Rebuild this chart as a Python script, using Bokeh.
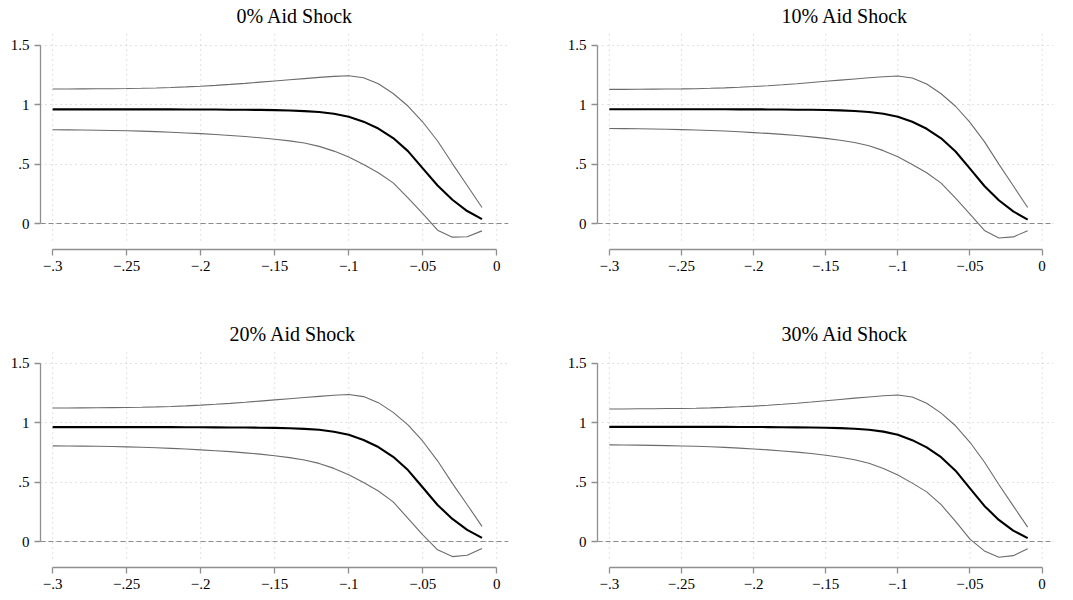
from bokeh.plotting import figure
from bokeh.models import Range1d, FixedTicker, Span
from bokeh.layouts import column, row
from bokeh.embed import file_html
from bokeh.resources import INLINE

# ---------------- data ----------------
x_vals = [-0.30, -0.29, -0.28, -0.27, -0.26, -0.25, -0.24, -0.23, -0.22, -0.21,
          -0.20, -0.19, -0.18, -0.17, -0.16, -0.15, -0.14, -0.13, -0.12, -0.11,
          -0.10, -0.09, -0.08, -0.07, -0.06, -0.05, -0.04, -0.03, -0.02, -0.01]

titles = ["0% Aid Shock", "10% Aid Shock", "20% Aid Shock", "30% Aid Shock"]

upper0 = [1.133, 1.133, 1.134, 1.135, 1.136, 1.137, 1.139, 1.142, 1.146, 1.151,
          1.157, 1.164, 1.172, 1.181, 1.191, 1.201, 1.211, 1.221, 1.231, 1.240,
          1.245, 1.228, 1.177, 1.095, 0.990, 0.855, 0.695, 0.505, 0.320, 0.135]
center0 = [0.962, 0.962, 0.962, 0.962, 0.962, 0.962, 0.962, 0.962, 0.962, 0.961,
           0.961, 0.960, 0.959, 0.958, 0.957, 0.955, 0.952, 0.947, 0.940, 0.925,
           0.900, 0.858, 0.800, 0.720, 0.610, 0.465, 0.320, 0.200, 0.105, 0.037]
lower0 = [0.790, 0.789, 0.788, 0.786, 0.784, 0.781, 0.778, 0.774, 0.769, 0.763,
          0.757, 0.750, 0.742, 0.733, 0.722, 0.710, 0.696, 0.678, 0.650, 0.610,
          0.560, 0.497, 0.428, 0.342, 0.216, 0.084, -0.056, -0.115, -0.112, -0.062]

upper1 = [1.130, 1.130, 1.131, 1.132, 1.133, 1.134, 1.136, 1.139, 1.143, 1.148,
          1.154, 1.161, 1.169, 1.178, 1.188, 1.198, 1.208, 1.218, 1.228, 1.237,
          1.243, 1.226, 1.175, 1.093, 0.988, 0.852, 0.690, 0.500, 0.318, 0.135]
center1 = [0.963, 0.963, 0.963, 0.963, 0.963, 0.963, 0.963, 0.963, 0.963, 0.962,
           0.962, 0.961, 0.960, 0.959, 0.958, 0.956, 0.953, 0.948, 0.940, 0.925,
           0.899, 0.857, 0.798, 0.718, 0.607, 0.462, 0.316, 0.196, 0.102, 0.033]
lower1 = [0.800, 0.799, 0.798, 0.796, 0.794, 0.791, 0.788, 0.784, 0.779, 0.773,
          0.766, 0.759, 0.751, 0.741, 0.730, 0.717, 0.702, 0.683, 0.655, 0.614,
          0.562, 0.498, 0.428, 0.340, 0.213, 0.080, -0.058, -0.122, -0.113, -0.062]

upper2 = [1.125, 1.125, 1.126, 1.127, 1.128, 1.129, 1.131, 1.134, 1.138, 1.143,
          1.149, 1.156, 1.164, 1.173, 1.183, 1.193, 1.203, 1.213, 1.223, 1.232,
          1.238, 1.221, 1.170, 1.088, 0.983, 0.845, 0.680, 0.490, 0.310, 0.127]
center2 = [0.964, 0.964, 0.964, 0.964, 0.964, 0.964, 0.964, 0.964, 0.964, 0.963,
           0.963, 0.962, 0.961, 0.960, 0.959, 0.957, 0.954, 0.949, 0.941, 0.925,
           0.899, 0.855, 0.796, 0.714, 0.602, 0.455, 0.308, 0.190, 0.098, 0.031]
lower2 = [0.806, 0.805, 0.804, 0.802, 0.800, 0.797, 0.794, 0.790, 0.785, 0.779,
          0.772, 0.765, 0.757, 0.747, 0.736, 0.723, 0.707, 0.687, 0.658, 0.616,
          0.563, 0.497, 0.425, 0.334, 0.195, 0.055, -0.070, -0.127, -0.116, -0.059]

upper3 = [1.117, 1.117, 1.118, 1.119, 1.120, 1.121, 1.123, 1.126, 1.130, 1.135,
          1.141, 1.148, 1.156, 1.165, 1.175, 1.186, 1.197, 1.208, 1.218, 1.228,
          1.234, 1.217, 1.165, 1.082, 0.975, 0.836, 0.670, 0.480, 0.300, 0.121]
center3 = [0.966, 0.966, 0.966, 0.966, 0.966, 0.966, 0.966, 0.966, 0.966, 0.965,
           0.965, 0.964, 0.963, 0.962, 0.960, 0.958, 0.955, 0.950, 0.942, 0.926,
           0.899, 0.854, 0.793, 0.710, 0.597, 0.448, 0.300, 0.182, 0.092, 0.028]
lower3 = [0.814, 0.813, 0.812, 0.810, 0.808, 0.805, 0.802, 0.798, 0.793, 0.787,
          0.780, 0.772, 0.763, 0.753, 0.741, 0.727, 0.710, 0.689, 0.659, 0.616,
          0.560, 0.492, 0.418, 0.310, 0.170, 0.020, -0.079, -0.133, -0.119, -0.062]

uppers = [upper0, upper1, upper2, upper3]
centers = [center0, center1, center2, center3]
lowers = [lower0, lower1, lower2, lower3]

x_ticks = [-0.3, -0.25, -0.2, -0.15, -0.1, -0.05, 0.0]
x_labels = ["\u2212.3", "\u2212.25", "\u2212.2", "\u2212.15", "\u2212.1", "\u2212.05", "0"]
y_ticks = [0.0, 0.5, 1.0, 1.5]
y_labels = ["0", ".5", "1", "1.5"]

# ---------------- style ----------------
FONT = "Liberation Serif"
AXIS_COLOR = "#8f8f8f"
GRID_COLOR = "#c4c4c4"
CI_COLOR = "#6b6b6b"

X_START, X_END = -0.3082, 0.0079
Y_START, Y_END = -0.219, 1.643
VGRID_BOTTOM, VGRID_TOP = -0.143, 1.601


def make_panel(i, frame_w, b_left, b_right, b_bottom, title_offset):
    p = figure(frame_width=frame_w, frame_height=221, output_backend="svg",
               toolbar_location=None,
               x_range=Range1d(X_START, X_END), y_range=Range1d(Y_START, Y_END),
               min_border_left=b_left, min_border_right=b_right,
               min_border_top=10, min_border_bottom=b_bottom)
    p.outline_line_color = None
    p.background_fill_color = "white"
    p.border_fill_color = "white"

    # title
    p.title.text = titles[i]
    p.title.text_font = FONT
    p.title.text_font_size = "20px"
    p.title.text_font_style = "normal"
    p.title.text_color = "black"
    p.title.align = "left"
    p.title.vertical_align = "bottom"
    p.title.offset = title_offset
    p.title.standoff = 4

    # axes
    for ax in (p.xaxis[0], p.yaxis[0]):
        ax.axis_line_color = AXIS_COLOR
        ax.axis_line_width = 1.3
        ax.major_tick_line_color = AXIS_COLOR
        ax.major_tick_line_width = 1.3
        ax.minor_tick_line_color = None
        ax.major_tick_in = 0
        ax.major_tick_out = 6
        ax.major_label_text_font = FONT
        ax.major_label_text_font_size = "15px"
        ax.major_label_text_color = "black"
        ax.major_label_standoff = 5
    p.xaxis[0].ticker = FixedTicker(ticks=x_ticks)
    p.xaxis[0].major_label_overrides = dict(zip(x_ticks, x_labels))
    p.xaxis[0].bounds = (x_ticks[0], x_ticks[-1])
    p.yaxis[0].ticker = FixedTicker(ticks=y_ticks)
    p.yaxis[0].major_label_overrides = dict(zip(y_ticks, y_labels))
    p.yaxis[0].bounds = (y_ticks[0], y_ticks[-1])

    # grids
    p.xgrid.visible = False
    p.ygrid.ticker = FixedTicker(ticks=y_ticks)
    p.ygrid.grid_line_color = GRID_COLOR
    p.ygrid.grid_line_dash = "1 4"
    p.ygrid.grid_line_width = 1
    p.segment(x0=x_ticks, y0=[VGRID_BOTTOM] * len(x_ticks),
              x1=x_ticks, y1=[VGRID_TOP] * len(x_ticks),
              line_color=GRID_COLOR, line_dash="1 4", line_width=1)

    # zero reference
    p.add_layout(Span(location=0, dimension="width", line_color="#8a8a8a",
                      line_dash="5 3", line_width=1))

    # series
    p.line(x_vals, uppers[i], line_color=CI_COLOR, line_width=1.1)
    p.line(x_vals, lowers[i], line_color=CI_COLOR, line_width=1.1)
    p.line(x_vals, centers[i], line_color="black", line_width=2.1)
    return p


p0 = make_panel(0, 468, 40, 40, 69, 196)
p1 = make_panel(1, 456, 49, 16, 69, 184)
p2 = make_panel(2, 468, 40, 40, 30, 189)
p3 = make_panel(3, 456, 49, 16, 30, 184)

layout = column(row(p0, p1), row(p2, p3))

open("out.html", "w").write(file_html(layout, INLINE))
